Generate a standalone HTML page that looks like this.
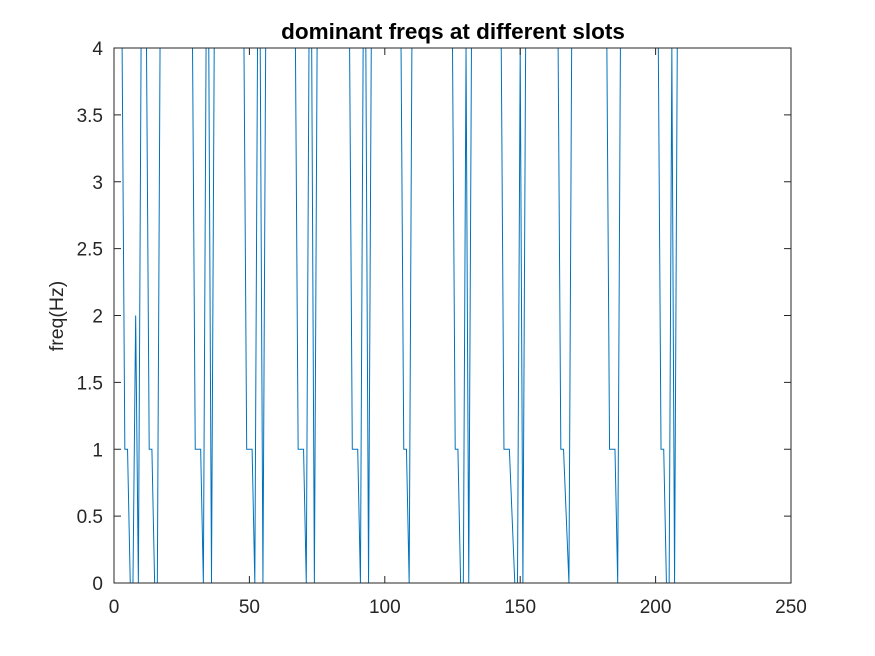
<!DOCTYPE html>
<html><head><meta charset="utf-8"><style>
body{margin:0;background:#fff;}
svg{display:block;font-family:"Liberation Sans",Arial,sans-serif;}
</style></head><body>
<svg id="chart" width="875" height="656" viewBox="0 0 875 656">
<rect x="0" y="0" width="875" height="656" fill="#fff"/>
<rect x="114" y="48" width="677" height="535" fill="#fff"/>
<g id="series"></g>
<g id="axes"></g>
<text x="453" y="39" text-anchor="middle" font-size="22.5" font-weight="bold" fill="#000">dominant freqs at different slots</text>
<text transform="translate(63,316) rotate(-90)" text-anchor="middle" font-size="19.5" fill="#262626">freq(Hz)</text>
</svg>
<script>
const yValues = [4,4,4,1,1,0,0,2,0,4,4,4,1,1,0,0,4,
4,4,4,4,4,4,4,4,4,4,4,4,
1,1,1,0,4,4,0,4,
4,4,4,4,4,4,4,4,4,4,4,
1,1,1,0,4,4,0,4,
4,4,4,4,4,4,4,4,4,4,4,
1,1,1,0,4,4,0,4,
4,4,4,4,4,4,4,4,4,4,4,4,
1,1,1,0,4,4,0,4,
4,4,4,4,4,4,4,4,4,4,4,
1,1,0,4,
4,4,4,4,4,4,4,4,4,4,4,4,4,4,4,
1,1,0,0,4,0,4,
4,4,4,4,4,4,4,4,4,4,4,
1,1,1,0.5,0,0,4,0,4,
4,4,4,4,4,4,4,4,4,4,4,4,
1,1,0.5,0,4,
4,4,4,4,4,4,4,4,4,4,4,4,4,
1,1,1,0,4,
4,4,4,4,4,4,4,4,4,4,4,4,4,4,
1,1,0,0,4,0,4,
4,4,4,4,4,4,4,4,4];
const xTicks = [0,50,100,150,200,250];
const yTicks = [0,0.5,1,1.5,2,2.5,3,3.5,4];
const yTickLabels = ["0","0.5","1","1.5","2","2.5","3","3.5","4"];

const L=114,R=791,T=48,B=583;
const xs = v => L + (v-0)/(250-0)*(R-L);
const ys = v => B - (v-0)/(4-0)*(B-T);
const NS="http://www.w3.org/2000/svg";
const series=document.getElementById('series');
const axes=document.getElementById('axes');

let d='';
yValues.forEach((v,i)=>{ d += (i?'L':'M') + xs(i+1).toFixed(2) + ',' + ys(v).toFixed(2); });
const path=document.createElementNS(NS,'path');
path.setAttribute('d',d);
path.setAttribute('fill','none');
path.setAttribute('stroke','#0072BD');
path.setAttribute('stroke-width','1');


series.appendChild(path);

const box=document.createElementNS(NS,'rect');
box.setAttribute('x',L);box.setAttribute('y',T);
box.setAttribute('width',R-L);box.setAttribute('height',B-T);
box.setAttribute('fill','none');box.setAttribute('stroke','#262626');box.setAttribute('stroke-width','1');


axes.appendChild(box);

xTicks.forEach(t=>{
  const x=xs(t);
  const tk=document.createElementNS(NS,'path');
  tk.setAttribute('d',`M${x},${B}V${B-7}M${x},${T}V${T+7}`);
  tk.setAttribute('stroke','#262626');
  
  
  axes.appendChild(tk);
  const tx=document.createElementNS(NS,'text');
  tx.setAttribute('x',x);tx.setAttribute('y',B+30);
  tx.setAttribute('text-anchor','middle');tx.setAttribute('font-size','19');tx.setAttribute('fill','#262626');
  tx.textContent=String(t);
  
  
  axes.appendChild(tx);
});
yTicks.forEach((t,i)=>{
  const y=ys(t);
  const tk=document.createElementNS(NS,'path');
  tk.setAttribute('d',`M${L},${y}H${L+7}M${R},${y}H${R-7}`);
  tk.setAttribute('stroke','#262626');
  
  
  axes.appendChild(tk);
  const tx=document.createElementNS(NS,'text');
  tx.setAttribute('x',L-11);tx.setAttribute('y',y+7);
  tx.setAttribute('text-anchor','end');tx.setAttribute('font-size','19');tx.setAttribute('fill','#262626');
  tx.textContent=yTickLabels[i];
  
  
  axes.appendChild(tx);
});
</script>
</body></html>
